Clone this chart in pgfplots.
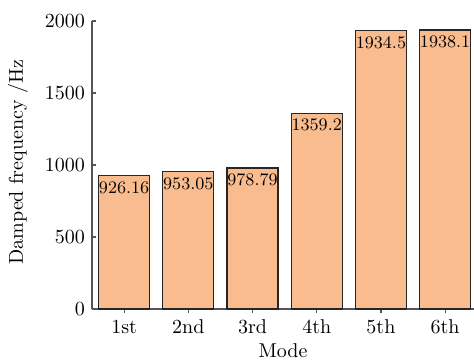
\documentclass[border=0pt]{standalone}
\usepackage{pgfplots}
\pgfplotsset{compat=1.18}
\definecolor{barfill}{HTML}{F8BC8E}
\definecolor{axisgray}{HTML}{555555}
\begin{document}
\begin{tikzpicture}
\begin{axis}[
  scale only axis,
  width=191pt, height=144pt,
  xmin=-0.5, xmax=5.45,
  ymin=0, ymax=2000,
  axis x line=bottom, axis y line=left,
  axis line style={-, draw=axisgray, line width=0.7pt},
  xtick={0,1,2,3,4,5},
  xticklabels={1st,2nd,3rd,4th,5th,6th},
  ytick={0,500,1000,1500,2000},
  yticklabel style={/pgf/number format/1000 sep={}},
  tick align=inside,
  major tick length=2pt,
  tick style={draw=axisgray, line width=0.6pt},
  xlabel={Mode},
  ylabel={Damped frequency /Hz},
  every axis x label/.style={at={(axis description cs:0.5,-0.146)}, anchor=center},
  every axis y label/.style={at={(axis description cs:-0.194,0.51)}, rotate=90, anchor=center},
  ybar, bar width=25.5pt,
  point meta=explicit symbolic,
  nodes near coords,
  every node near coord/.append style={anchor=north, yshift=0.8pt, font=\fontsize{8.8}{10}\selectfont, black},
]
\addplot[fill=barfill, draw=black!85, line width=0.6pt] coordinates {
  (0,926.16) [926.16]
  (1,953.05) [953.05]
  (2,978.79) [978.79]
  (3,1359.2) [1359.2]
  (4,1934.5) [1934.5]
  (5,1938.1) [1938.1]
};
\end{axis}
\pgfresetboundingbox
\path (current axis.south west) ++(-46pt,-25pt) rectangle ++(237pt,179.5pt);
\end{tikzpicture}
\end{document}
